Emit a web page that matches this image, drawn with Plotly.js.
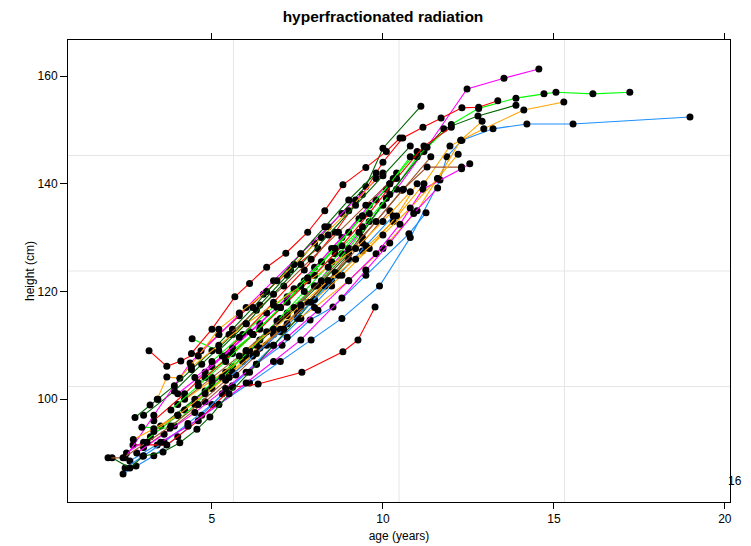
<!DOCTYPE html>
<html>
<head>
<meta charset="utf-8">
<script src="https://cdn.plot.ly/plotly-3.0.1.min.js"></script>
<style>body{margin:0;padding:0;background:#fff}#chart{width:751px;height:546px}</style>
</head>
<body>
<div id="chart"></div>
<script>
// ---- data: one pair of arrays per child (age in years, height in cm) ----
const age01 = [2.6,3.4,4.3,5.2,6.1,7.0,7.9,8.8,9.9,10.8,11.67,11.87,12.31,13.22,14.21,15.56,18.98];
const ht01  = [88.5,91.5,95,99,103,107,111,115,121,130,140.7,145,148.1,150.2,151.1,151.1,152.4];
const age02 = [2.46,3.0,3.6,4.3,5.0,5.6,6.3,7.05,7.87,8.54,9.5,10.76,11.26];
const ht02  = [87.2,89.5,92,95.5,99,102.5,106.5,110,114.7,117.1,123,130.7,134.6];
const age03 = [2.4,2.78,3.3,4.0,4.7,5.3,6.0,6.8,7.6,8.5];
const ht03  = [86.1,87.6,89.5,93,97,101,105,110,115,121];
const age04 = [2.69,3.68,4.6,5.6,6.35,7.63,8.83,9.27,9.77];
const ht04  = [91.5,91.5,96,102.2,102.8,105.0,108.8,111.0,117.1];
const age05 = [3.16,3.68,4.09,4.68,5.2,5.8,6.5,7.3,8.1];
const ht05  = [109,106.1,107.1,109,112,115.5,119.5,124,128];
const age06 = [2.5,3.2,4.0,4.8,5.6,6.4,7.2,8.0,8.8,9.6,10.4,11.2,12.46,13.54,14.56];
const ht06  = [90,93,97,101.5,106,111,116,121,127,133,139,146,157.6,159.6,161.3];
const age07 = [3.0,4.0,5.0,6.0,7.0,8.0,9.0,10.0,11.0,12.0,12.8,13.89,14.71,15.06,16.14,17.22];
const ht07  = [92,97,103,109,115,121,128,136,145,151,154,155.9,156.7,157.0,156.7,157.0];
const age08 = [3.3,4.2,5.0,5.9,6.8,7.7,8.6,9.4,10.0,10.58,11.17,11.7,12.31,12.8,13.36];
const ht08  = [96,101,106,112,118,124,131,138,144,148.5,150.5,152.2,154.1,154.2,155.4];
const age09 = [3.0,3.9,4.7,5.6,6.4,7.2,8.0,8.8,9.5,10.0,11.11];
const ht09  = [97,101.5,106.5,112,117.5,123,129,134.5,139.5,146.6,154.4];
const age10 = [3.5,4.5,5.4,6.3,7.2,8.1,9.0,10.1,11.29,11.78,12.78,13.89];
const ht10  = [95,100,105,110,115.5,121,127,137.3,146.8,150.2,152.6,154.6];
const age11 = [3.3,4.2,5.0,5.9,6.8,7.6,8.5,9.4,10.3,11.2,11.96,12.28,12.95,14.12,15.29];
const ht11  = [94,98,102,107,112,117,122,127.5,133,140,147,148.1,150.2,153.7,155.2];
const age12 = [4.0,5.0,6.0,7.0,8.0,9.0,10.0,11.0,11.6,12.28,12.9];
const ht12  = [99,103.5,108,112.5,117,122,128,135,141,148.1,151.6];
const age13 = [3.0,3.9,4.8,5.7,6.6,7.5,8.4,9.4,10.56,11.29,12.3];
const ht13  = [91,95,99.5,104.5,110,116,122,130,138.8,143.1,143.1];
const age14 = [2.8,3.6,4.5,5.4,6.3,7.2,8.1,9.0,9.8,10.5,11.17,12.3,12.54];
const ht14  = [90,93.5,97.5,102,106.5,111.5,116.5,122,127,132.5,139,142.8,143.7];
const age15 = [3.5,4.3,5.2,6.0,6.8,7.6,8.8,9.5,10.2,10.9,11.6];
const ht15  = [92,95,99,103,107,111,118.8,124,129,134.5,139.2];
const age16 = [2.46,3.3,4.36,5.2,6.0,6.8,7.6,8.4,9.2,10.0];
const ht16  = [89.1,97,106.7,112,117,122,127,132,137,142];
const age17 = [4.42,5.44,6.2,7.0,7.8,8.6,9.4,10.2];
const ht17  = [111.2,108.2,112,117,122,127,132,138];
const age18 = [2.95,3.77,4.5,5.3,6.1,6.9,7.7,8.5,9.3];
const ht18  = [94.8,94.6,99,104,109,114.5,120,125.5,131];
const age19 = [3.4,3.68,4.06,4.6,5.2,5.8,6.6,7.4,8.2,9.0,9.8];
const ht19  = [100,104.1,103.9,108,113,116,120,125,130,135,141];
const age20 = [2.7,3.3,4.0,4.8,5.6,6.4,7.2,8.0,8.8,9.6,10.4,11.0];
const ht20  = [92.5,94.5,97,101,105,109.5,114,118.5,123,128,134,140];
const age21 = [2.08,2.6,2.98,3.57,4.06,4.56,4.94,5.5,6.1,6.8,7.5,8.3,9.0];
const ht21  = [89.1,87.2,89.4,90.2,91.9,94.4,96.7,101,105,110,115,121,126];
const age22 = [2.75,3.19,3.42,3.9,4.4,5.0,5.6,6.2,6.9,7.6,8.3,9.0,9.8];
const ht22  = [96.6,98.9,100,102.5,105.5,109,113,117,122,127,132,137,142];
const age23 = [1.96,2.4,3.1,3.8,4.6,5.4,6.2,7.0,7.8,8.6,9.4,10.2];
const ht23  = [89.1,89.1,92,95,99,103.5,108,113,118,123.5,129,135];
const age24 = [4.0,4.8,5.6,6.4,7.2,8.0,8.8,9.6,10.4];
const ht24  = [101,105,109.5,114,119,124.5,130,136,142];
const age25 = [4.5,5.3,6.1,6.9,7.7,8.5,9.3,10.1];
const ht25  = [104,108,112.5,117,122,128,133.5,139];
const age26 = [4.6,5.4,6.2,7.0,7.8,8.6,9.4,10.2,11.0];
const ht26  = [103,107.5,112,117,122.5,128,134,140,146];
const age27 = [5.0,5.8,6.6,7.4,8.2,9.0,9.8];
const ht27  = [107,111.5,116,120.5,125.5,131,137];
const age28 = [4.2,5.0,5.8,6.6,7.4,8.2,9.0,9.8,10.6,11.4];
const ht28  = [100,104,108,112.5,117,122,127.5,133,139,145];
const age29 = [5.5,6.3,7.1,7.9,8.7,9.5,10.3];
const ht29  = [112,116.5,121,126,131,136,141];
const age30 = [4.8,5.6,6.4,7.2,8.0,8.8,9.6,10.4,11.2,12.0];
const ht30  = [104,108.5,113,118,123,128.5,134.5,141,147,150.5];
const age31 = [4.4,5.2,6.0,6.8,7.6,8.4,9.2,10.0,10.8];
const ht31  = [106,110,114,117.5,121,124.5,128,133,138.5];
const age32 = [5.2,6.0,6.8,7.6,8.4,9.2,10.0,10.8];
const ht32  = [109,114,119.5,125,130.5,136,141.5,147];
const age33 = [5.5,6.3,7.1,7.9,8.7,9.5,10.3];
const ht33  = [104,108.5,113,118,123,128.5,134];
const age34 = [6.0,6.8,7.6,8.4,9.2,10.0,10.8,11.6,12.2];
const ht34  = [109,113,117.5,122,126,130.5,135.5,141,145.5];
const age35 = [3.8,4.6,5.4,6.2,7.0,7.8,8.6,9.4,10.2,10.8];
const ht35  = [98,102.5,107,112,117,122.5,128,134,140,145];
const age36 = [4.4,5.0,5.67,6.1,6.6,7.16,7.8,8.3,8.83,9.5,10.1,10.5];
const ht36  = [108.5,113,119,121.5,124.5,127.1,131,135,139.8,143,146,148.5];

const ages = [age01,age02,age03,age04,age05,age06,age07,age08,age09,age10,age11,age12,
              age13,age14,age15,age16,age17,age18,age19,age20,age21,age22,age23,age24,
              age25,age26,age27,age28,age29,age30,age31,age32,age33,age34,age35,age36];
const hts  = [ht01,ht02,ht03,ht04,ht05,ht06,ht07,ht08,ht09,ht10,ht11,ht12,
              ht13,ht14,ht15,ht16,ht17,ht18,ht19,ht20,ht21,ht22,ht23,ht24,
              ht25,ht26,ht27,ht28,ht29,ht30,ht31,ht32,ht33,ht34,ht35,ht36];

const xTicks = [5, 10, 15, 20];
const yTicks = [100, 120, 140, 160];
const panelTitle = "hyperfractionated radiation";
const cornerLabel = "16";

// ---- styles ----
const C = {red:"#FF0000", lime:"#00FF00", mag:"#FF00FF", blue:"#1E90FF", orange:"#FFA500", dg:"#006400", brown:"#A0522D"};
const lineColors = [C.blue,C.blue,C.blue,C.red,C.red,C.mag,C.lime,C.red,C.dg,C.dg,C.orange,C.orange,
                    C.brown,C.mag,C.mag,C.mag,C.lime,C.lime,C.orange,C.orange,C.dg,C.dg,C.brown,C.mag,
                    C.mag,C.lime,C.lime,C.brown,C.brown,C.red,C.orange,C.dg,C.blue,C.orange,C.lime,C.red];

const traces = ages.map((a, i) => ({
  x: a, y: hts[i], type: "scatter", mode: "lines+markers",
  line: {color: lineColors[i], width: 1.1},
  marker: {color: "#000000", size: 7, line: {width: 0}},
  hoverinfo: "skip", showlegend: false
}));

const gridShapes = [];
[0.25, 0.5, 0.75].forEach(f => {
  gridShapes.push({type:"line", xref:"paper", yref:"paper", x0:f, x1:f, y0:0, y1:1,
                   line:{color:"#e6e6e6", width:1}, layer:"below"});
  gridShapes.push({type:"line", xref:"paper", yref:"paper", y0:f, y1:f, x0:0, x1:1,
                   line:{color:"#e6e6e6", width:1}, layer:"below"});
});

const font = {family: "Liberation Sans, Arial, Helvetica, sans-serif", color: "#000", size: 12};

const layout = {
  width: 751, height: 546,
  margin: {l: 68, r: 21, t: 40, b: 44},
  paper_bgcolor: "#fff", plot_bgcolor: "#fff",
  font: font,
  title: {text: "<b>" + panelTitle + "</b>", x: 0.51, xref: "container", xanchor: "center",
          y: 1 - 17/546, yref: "container", yanchor: "middle",
          font: {family: font.family, size: 15.5, color: "#000"}},
  xaxis: {range: [0.79, 20.15], tickvals: xTicks, ticktext: xTicks.map(String),
          ticks: "outside", ticklen: 6, tickcolor: "#000", tickwidth: 1,
          showline: true, linecolor: "#000", linewidth: 1, mirror: "ticks",
          showgrid: false, zeroline: false,
          title: {text: "age (years)", standoff: 6, font: {size: 12}}},
  yaxis: {range: [80.9, 166.7], tickvals: yTicks, ticktext: yTicks.map(String),
          ticks: "outside", ticklen: 7, tickcolor: "#000", tickwidth: 1,
          showline: true, linecolor: "#000", linewidth: 1, mirror: true,
          showgrid: false, zeroline: false,
          title: {text: "height (cm)", standoff: 0, font: {size: 12}}},
  shapes: gridShapes,
  annotations: [{text: cornerLabel, xref: "paper", yref: "paper", x: 0.994, y: 0.045,
                 xanchor: "left", yanchor: "middle", showarrow: false,
                 font: {size: 12, color: "#000"}}]
};

Plotly.newPlot("chart", traces, layout, {staticPlot: true, displayModeBar: false});
</script>
</body>
</html>
